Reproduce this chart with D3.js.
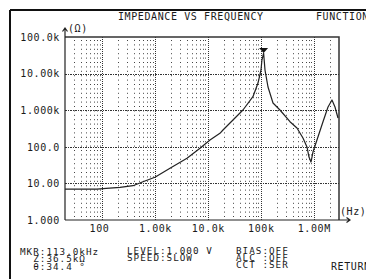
<!DOCTYPE html>
<html><head><meta charset="utf-8">
<script src="https://cdn.jsdelivr.net/npm/d3@7/dist/d3.min.js"></script>
<style>
html,body{margin:0;padding:0;background:#fff;}
svg{display:block;}
text{font-family:"DejaVu Sans Mono",monospace;font-size:10px;letter-spacing:0.6px;fill:#1a1a1a;}
text.info{font-size:9.3px;letter-spacing:1.0px;}
</style></head>
<body>
<script>
// ---- data ----
const freqHz = [20, 80, 120, 219, 385, 594, 1000, 1924, 4032, 7100, 10960, 16900, 19300, 46000, 71000, 88500, 100800, 105000, 113000, 120000, 136800, 170000, 230000, 355600, 482000, 626000, 745000, 813000, 887000, 967000, 1150000, 1490000, 1860000, 2210000, 2520000, 2870000];
const impedanceOhm = [7.0, 7.0, 7.3, 7.8, 8.65, 11.1, 14.7, 25.9, 48.5, 91, 153, 234, 288, 1012, 2340, 5530, 12540, 23500, 36500, 12500, 4300, 1574, 1012, 485, 326, 174, 98.8, 52.6, 38.4, 72, 153, 476, 1223, 1900, 1223, 612];
const xTickValues = [100, 1e3, 1e4, 1e5, 1e6];
const xTickLabels = ["100", "1.00k", "10.0k", "100k", "1.00M"];
const yTickValues = [1, 10, 100, 1e3, 1e4, 1e5];
const yTickLabels = ["1.000", "10.00", "100.0", "1.000k", "10.00k", "100.0k"];
const markerFreq = 113000, markerZ = 36500;
const titleText = "IMPEDANCE VS FREQUENCY";
const menuText = "FUNCTION";
const mkrLines = ["MKR:113.0kHz", "  Z:36.5kΩ", "  θ:34.4 °"];
const levelLines = ["LEVEL:1.000 V", "SPEED:SLOW"];
const biasLines = ["BIAS:OFF", "ALC :OFF", "CCT :SER"];
const softKey = "RETURN";

const W = 366, H = 279;
const L = 65, R = 339, T = 37, B = 220;

const svg = d3.select("body").append("svg").attr("width", W).attr("height", H);

const x = d3.scaleLog().domain([20, 3e6]).range([L, R]);
const y = d3.scaleLog().domain([1, 1e5]).range([B, T]);

// outer frame
svg.append("line").attr("x1", 10).attr("x2", W).attr("y1", 10).attr("y2", 10).attr("stroke", "#111").attr("stroke-width", 2);
svg.append("line").attr("x1", 10).attr("x2", 10).attr("y1", 10).attr("y2", H).attr("stroke", "#111").attr("stroke-width", 2);

// minor vertical grid
const minor = [];
for (let d = 10; d <= 1e6; d *= 10) for (let k = 2; k <= 9; k++) { const v = d * k; if (v > 20 && v < 3e6) minor.push(v); }
svg.append("g").selectAll("line").data(minor).join("line")
  .attr("x1", d => Math.round(x(d)) + 0.5).attr("x2", d => Math.round(x(d)) + 0.5)
  .attr("y1", T + 3).attr("y2", B)
  .attr("stroke", "#444").attr("stroke-width", 1).attr("stroke-dasharray", "1,3.4");

// major vertical grid
svg.append("g").selectAll("line").data(xTickValues).join("line")
  .attr("x1", d => Math.round(x(d)) + 0.5).attr("x2", d => Math.round(x(d)) + 0.5)
  .attr("y1", T).attr("y2", B)
  .attr("stroke", "#333").attr("stroke-width", 1).attr("stroke-dasharray", "1,1");

// major horizontal grid
svg.append("g").selectAll("line").data(yTickValues.slice(1, -1)).join("line")
  .attr("x1", L).attr("x2", R)
  .attr("y1", d => Math.round(y(d)) + 0.5).attr("y2", d => Math.round(y(d)) + 0.5)
  .attr("stroke", "#333").attr("stroke-width", 1).attr("stroke-dasharray", "2,1,1,1");

// plot box + axes
svg.append("path").attr("d", `M${L},${T}H${R}V${B}`).attr("fill", "none").attr("stroke", "#333").attr("stroke-width", 1.5);
svg.append("path").attr("d", `M${L},${B}V28M${L - 2.5},31.5L${L},28L${L + 2.5},31.5`).attr("fill", "none").attr("stroke", "#222").attr("stroke-width", 1.2);
svg.append("path").attr("d", `M${L},${B}H350M346.5,${B - 2.5}L350,${B}L346.5,${B + 2.5}`).attr("fill", "none").attr("stroke", "#222").attr("stroke-width", 1.2);

// axes labels
const yAxis = d3.axisLeft(y).tickValues(yTickValues).tickFormat((d, i) => yTickLabels[i]).tickSize(0).tickPadding(5);
const gy = svg.append("g").attr("transform", `translate(${L},0)`).call(yAxis);
gy.select(".domain").remove();
gy.selectAll("text").attr("font-size", null).attr("font-family", null).attr("fill", null);

const xAxis = d3.axisBottom(x).tickValues(xTickValues).tickFormat((d, i) => xTickLabels[i]).tickSize(0).tickPadding(5);
const gx = svg.append("g").attr("transform", `translate(0,${B})`).call(xAxis);
gx.select(".domain").remove();
gx.selectAll("text").attr("font-size", null).attr("font-family", null).attr("fill", null);
gx.selectAll("text").filter((d, i) => i === 0).attr("dx", "-3");

svg.append("text").attr("x", 68).attr("y", 32).text("(Ω)");
svg.append("text").attr("x", 340).attr("y", 215).text("(Hz)");

// curve
const line = d3.line().x((d, i) => x(freqHz[i])).y((d, i) => y(impedanceOhm[i]));
svg.append("path").datum(impedanceOhm).attr("d", line).attr("fill", "none").attr("stroke", "#222").attr("stroke-width", 1.2).attr("stroke-linejoin", "round");

// marker
const mx = x(markerFreq), my = y(markerZ);
svg.append("path").attr("d", `M${mx},${my}L${mx - 4.5},${my - 5}L${mx + 4.5},${my - 5}Z`).attr("fill", "#111");

// texts
svg.append("text").attr("x", 118).attr("y", 20).text(titleText);
svg.append("text").attr("x", 316).attr("y", 20).text(menuText);
const mkrY = [254.5, 262, 269.5];
mkrLines.forEach((t, i) => svg.append("text").attr("class", "info").attr("x", 20).attr("y", mkrY[i]).style("white-space", "pre").text(t));
const lvY = [254, 261];
levelLines.forEach((t, i) => svg.append("text").attr("class", "info").attr("x", 127).attr("y", lvY[i]).style("white-space", "pre").text(t));
const bY = [253.5, 260.5, 267.5];
biasLines.forEach((t, i) => svg.append("text").attr("class", "info").attr("x", 236).attr("y", bY[i]).style("white-space", "pre").text(t));
svg.append("text").attr("x", 331).attr("y", 270).text(softKey);
</script>
</body></html>
